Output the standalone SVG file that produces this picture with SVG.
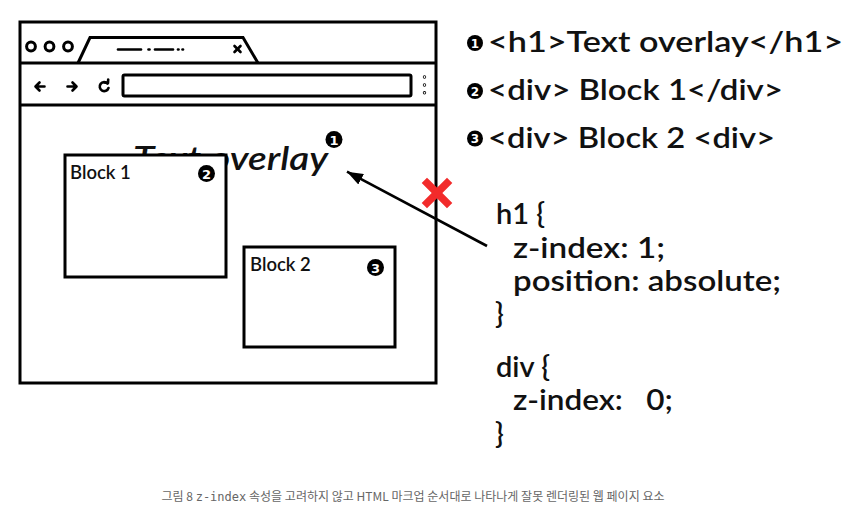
<svg xmlns="http://www.w3.org/2000/svg" width="865" height="519" viewBox="0 0 865 519">
<defs>
<style>
.ol{fill:none;stroke:#000;stroke-width:3}
.box{fill:#fff;stroke:#000;stroke-width:3}
.lbl{font-family:Lato,"Noto Sans",sans-serif;font-weight:600;fill:#111}
.big{font-family:Lato,"Noto Sans",sans-serif;font-weight:600;fill:#111;font-size:28px}
.code{font-family:Lato,"Noto Sans",sans-serif;font-weight:600;fill:#111;font-size:29px}
.badge{fill:#000}
.bnum{font-family:"DejaVu Sans",sans-serif;font-weight:bold;fill:#fff;text-anchor:middle}
.icon{fill:none;stroke:#000;stroke-width:2.6;stroke-linecap:round;stroke-linejoin:round}
</style>
<marker id="ah" viewBox="0 0 16 12" refX="16" refY="6" markerWidth="16" markerHeight="12" markerUnits="userSpaceOnUse" orient="auto">
<path d="M0,0 L16,6 L0,12 Z" fill="#000"/>
</marker>
</defs>
<rect width="865" height="519" fill="#fff"/>

<g id="browser">
<rect class="ol" x="20" y="22" width="416" height="361"/>
<line class="ol" x1="20" y1="63" x2="436" y2="63"/>
<line class="ol" x1="20" y1="105" x2="436" y2="105"/>
<circle class="ol" cx="31" cy="46.5" r="4.4"/>
<circle class="ol" cx="49.5" cy="46.5" r="4.4"/>
<circle class="ol" cx="68" cy="46.5" r="4.4"/>
<path class="ol" d="M78,63 L90,37.5 L243,37.5 L258,63"/>
<g class="icon">
<line x1="118" y1="49.5" x2="141" y2="49.5"/>
<line x1="148.5" y1="49.5" x2="149.5" y2="49.5"/>
<line x1="155" y1="49.5" x2="173" y2="49.5"/>
<line x1="178" y1="49.5" x2="178.5" y2="49.5"/>
<line x1="182.5" y1="49.5" x2="183" y2="49.5"/>
<line x1="234.5" y1="46" x2="240.5" y2="52"/>
<line x1="240.5" y1="46" x2="234.5" y2="52"/>
<path d="M44.5,86.5 H36 M39.5,82.5 L35.5,86.5 L39.5,90.5"/>
<path d="M67.5,86.5 H76 M72.5,82.5 L76.5,86.5 L72.5,90.5"/>
<path d="M107.5,83.5 A4.5,4.5 0 1 0 108.5,88"/>
<path d="M104.5,82.5 L108,83 L108.2,79.5"/>
<circle cx="424.5" cy="77" r="0.4"/>
<circle cx="424.5" cy="85" r="0.4"/>
<circle cx="424.5" cy="92.8" r="0.4"/>
</g>
<rect class="ol" x="123" y="75" width="288" height="21" rx="1.5"/>
</g>

<g id="text-overlay">
<text class="lbl" x="133" y="170" font-size="33" font-style="italic" textLength="195" lengthAdjust="spacingAndGlyphs">Text overlay</text>
<circle class="badge" cx="334" cy="139.5" r="8.5"/>
<text class="bnum" x="334" y="144.5" font-size="13">1</text>
</g>

<g id="block1">
<rect class="box" x="65" y="155" width="161" height="122"/>
<text class="lbl" x="70" y="179" font-size="18.5">Block 1</text>
<circle class="badge" cx="206.5" cy="173.5" r="8.5"/>
<text class="bnum" x="206.5" y="178.5" font-size="13">2</text>
</g>

<g id="block2">
<rect class="box" x="244" y="247" width="151" height="100"/>
<text class="lbl" x="250" y="271" font-size="18.5">Block 2</text>
<circle class="badge" cx="375.5" cy="267.5" r="8.5"/>
<text class="bnum" x="375.5" y="272.5" font-size="13">3</text>
</g>

<g id="connectors">
<line x1="487" y1="246" x2="347" y2="171.7" stroke="#000" stroke-width="2.6" marker-end="url(#ah)"/>
<g stroke="#f22b2b" stroke-width="7.5" stroke-linecap="square">
<line x1="427" y1="183" x2="447" y2="203"/>
<line x1="447" y1="183" x2="427" y2="203"/>
</g>
</g>

<g id="legend">
<circle class="badge" cx="475" cy="43" r="8"/>
<text class="bnum" x="475" y="47.5" font-size="12">1</text>
<text class="big" x="488" y="52" textLength="355" lengthAdjust="spacingAndGlyphs">&lt;h1&gt;Text overlay&lt;/h1&gt;</text>
<circle class="badge" cx="475" cy="91" r="8"/>
<text class="bnum" x="475" y="95.5" font-size="12">2</text>
<text class="big" x="488" y="100" textLength="295" lengthAdjust="spacingAndGlyphs">&lt;div&gt; Block 1&lt;/div&gt;</text>
<circle class="badge" cx="475" cy="138.5" r="8"/>
<text class="bnum" x="475" y="143" font-size="12">3</text>
<text class="big" x="488" y="147.5" textLength="287" lengthAdjust="spacingAndGlyphs">&lt;div&gt; Block 2 &lt;div&gt;</text>
</g>

<g id="css-code">
<text class="code" x="496" y="223.5">h1 {</text>
<text class="code" x="513" y="257.5" textLength="152" lengthAdjust="spacingAndGlyphs">z-index: 1;</text>
<text class="code" x="513" y="290.5" textLength="268" lengthAdjust="spacingAndGlyphs">position: absolute;</text>
<text class="code" x="495" y="323.5">}</text>
<text class="code" x="496" y="377">div {</text>
<text class="code" x="513" y="410" textLength="160" lengthAdjust="spacingAndGlyphs" xml:space="preserve">z-index:   0;</text>
<text class="code" x="495" y="443.5">}</text>
</g>

<g id="caption">
<text x="413" y="501" font-family="'Noto Sans CJK KR','Noto Sans',sans-serif" font-size="12" fill="#666" text-anchor="middle" textLength="503" lengthAdjust="spacingAndGlyphs">그림 8 <tspan font-family="'DejaVu Sans Mono','Liberation Mono',monospace">z-index</tspan> 속성을 고려하지 않고 HTML 마크업 순서대로 나타나게 잘못 렌더링된 웹 페이지 요소</text>
</g>
</svg>
